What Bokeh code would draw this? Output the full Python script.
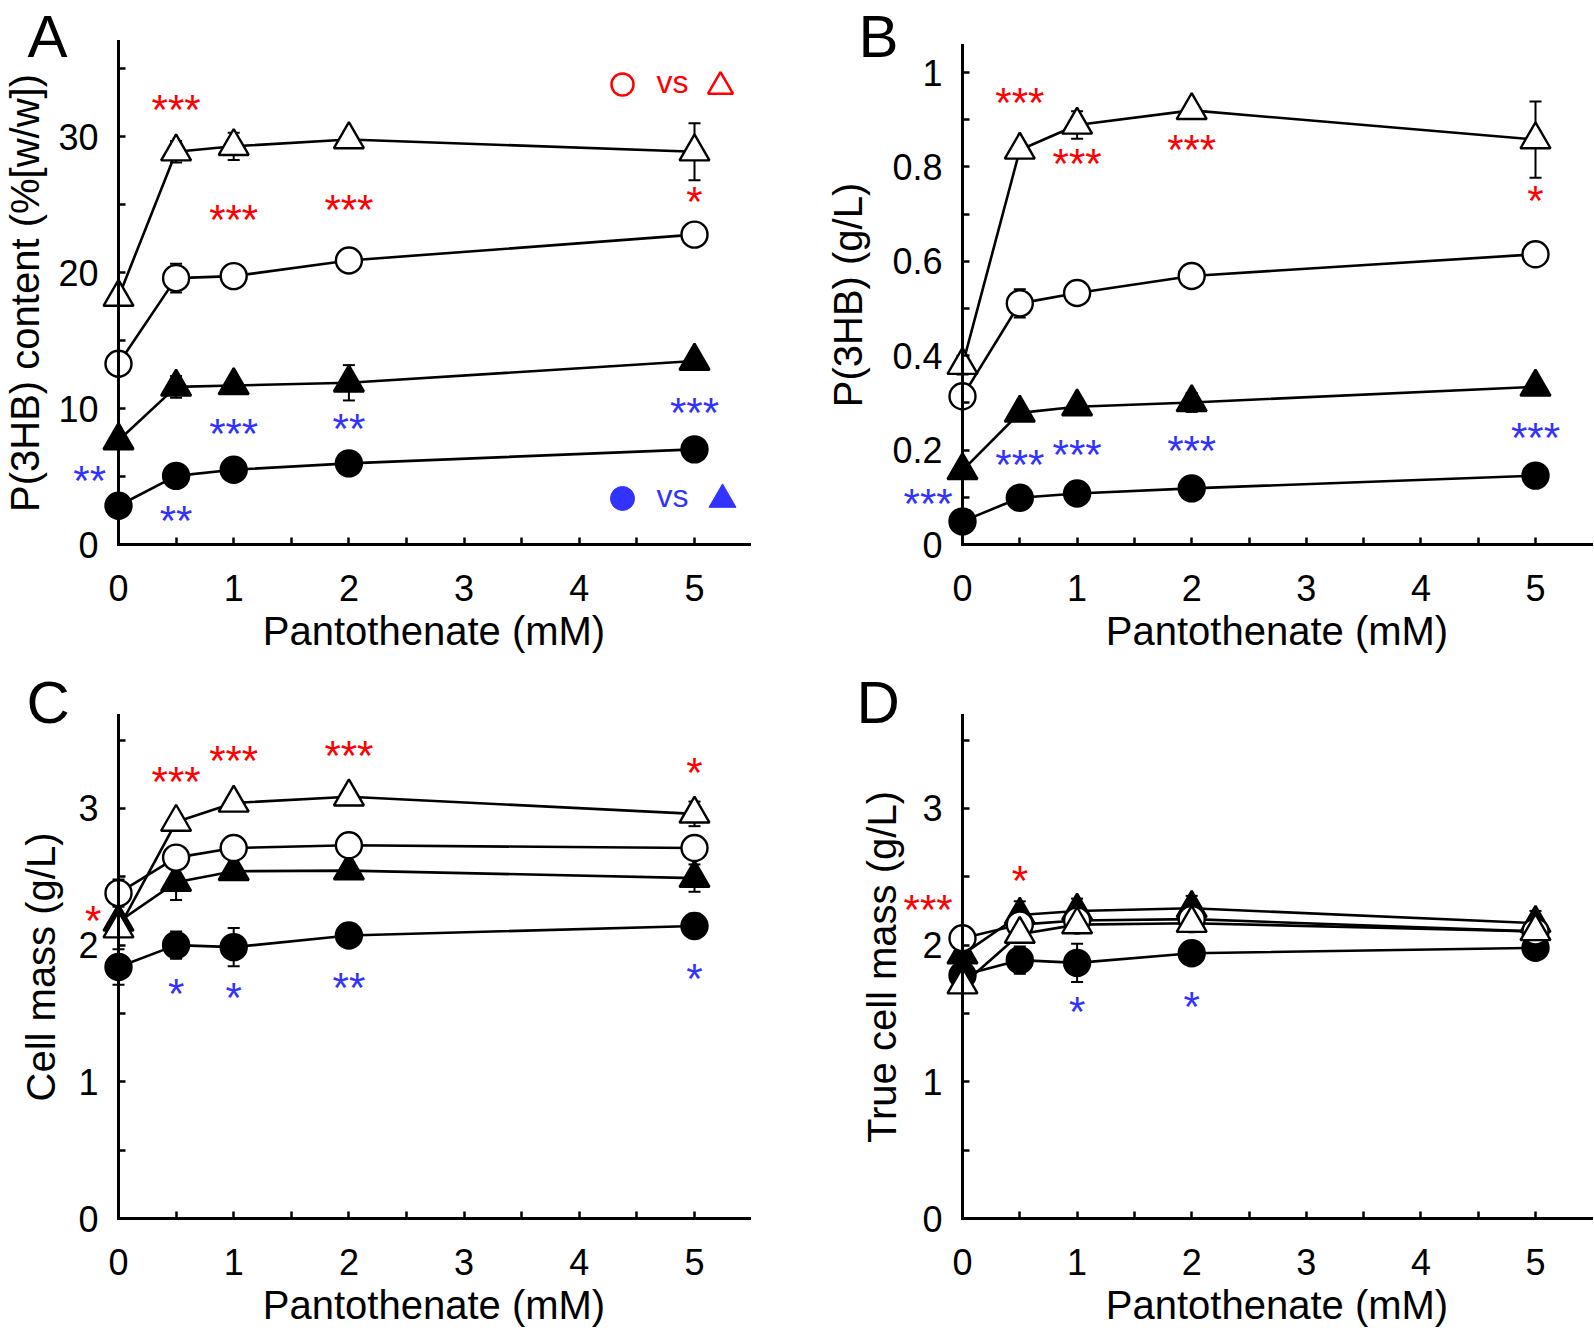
from bokeh.plotting import figure
from bokeh.models import ColumnDataSource, Whisker, TeeHead, FixedTicker, Label, LabelSet
from bokeh.layouts import column, row
from bokeh.embed import file_html
from bokeh.resources import INLINE
from bokeh.core.properties import value

FONT = "Liberation Sans"
RED = "#ff0000"
BLUE = "#3333ff"

# ---------------- data ----------------
conc = [0, 0.5, 1, 2, 5]
x_ticks = [0, 1, 2, 3, 4, 5]
x_minor = [0.5, 1.5, 2.5, 3.5, 4.5]

# Panel A : P(3HB) content (%[w/w])
A_open_tri = [18.2, 28.9, 29.3, 29.8, 28.9]
A_open_tri_sd = [0.4, 0.8, 1.0, 0.3, 2.1]
A_open_circ = [13.3, 19.6, 19.75, 20.9, 22.8]
A_open_circ_sd = [0.4, 1.05, 0.4, 0.3, 0.4]
A_fill_tri = [7.65, 11.6, 11.7, 11.9, 13.5]
A_fill_tri_sd = [0.5, 0.8, 0.4, 1.3, 0.3]
A_fill_circ = [2.85, 5.05, 5.5, 5.97, 7.0]
A_fill_circ_sd = [0.3, 0.3, 0.3, 0.5, 0.3]
A_star_x = [0.5, 1, 2, 5, -0.25, 0.5, 1, 2, 5]
A_star_y = [32.4, 24.3, 25.0, 25.6, 5.1, 2.1, 8.5, 8.9, 10.1]
A_star_t = ["***", "***", "***", "*", "**", "**", "***", "**", "***"]
A_star_g = ["r", "r", "r", "r", "b", "b", "b", "b", "b"]
A_yticks = [0, 10, 20, 30]
A_yminor = [5, 15, 25, 35]

# Panel B : P(3HB) (g/L)
B_open_tri = [0.38, 0.836, 0.889, 0.920, 0.858]
B_open_tri_sd = [0.02, 0.01, 0.029, 0.01, 0.081]
B_open_circ = [0.314, 0.511, 0.533, 0.569, 0.615]
B_open_circ_sd = [0.02, 0.03, 0.01, 0.01, 0.01]
B_fill_tri = [0.157, 0.279, 0.292, 0.301, 0.334]
B_fill_tri_sd = [0.01, 0.015, 0.01, 0.02, 0.01]
B_fill_circ = [0.049, 0.099, 0.108, 0.119, 0.146]
B_fill_circ_sd = [0.01, 0.01, 0.01, 0.01, 0.01]
B_star_x = [0.5, 1, 2, 5, -0.3, 0.5, 1, 2, 5]
B_star_y = [0.948, 0.818, 0.848, 0.740, 0.098, 0.180, 0.202, 0.210, 0.238]
B_star_t = ["***", "***", "***", "*", "***", "***", "***", "***", "***"]
B_star_g = ["r", "r", "r", "r", "b", "b", "b", "b", "b"]
B_yticks = [0, 0.2, 0.4, 0.6, 0.8, 1.0]
B_yminor = [0.1, 0.3, 0.5, 0.7, 0.9]

# Panel C : Cell mass (g/L)
C_open_tri = [2.12, 2.90, 3.04, 3.085, 2.96]
C_open_tri_sd = [0.05, 0.03, 0.03, 0.04, 0.09]
C_open_circ = [2.38, 2.64, 2.71, 2.73, 2.71]
C_open_circ_sd = [0.1, 0.03, 0.03, 0.03, 0.03]
C_fill_tri = [2.17, 2.46, 2.54, 2.545, 2.49]
C_fill_tri_sd = [0.05, 0.13, 0.05, 0.05, 0.1]
C_fill_circ = [1.84, 2.0, 1.985, 2.07, 2.14]
C_fill_circ_sd = [0.13, 0.1, 0.14, 0.06, 0.09]
C_star_x = [-0.22, 0.5, 1, 2, 5, 0.5, 1, 2, 5]
C_star_y = [2.22, 3.235, 3.39, 3.42, 3.30, 1.68, 1.65, 1.73, 1.79]
C_star_t = ["*", "***", "***", "***", "*", "*", "*", "**", "*"]
C_star_g = ["r", "r", "r", "r", "r", "b", "b", "b", "b"]
CD_yticks = [0, 1, 2, 3]
CD_yminor = [0.5, 1.5, 2.5, 3.5]

# Panel D : True cell mass (g/L)
D_open_tri = [1.71, 2.08, 2.15, 2.16, 2.10]
D_open_tri_sd = [0.03, 0.03, 0.03, 0.03, 0.03]
D_open_circ = [2.05, 2.15, 2.18, 2.19, 2.10]
D_open_circ_sd = [0.03, 0.03, 0.03, 0.03, 0.03]
D_fill_tri = [1.93, 2.22, 2.25, 2.27, 2.16]
D_fill_tri_sd = [0.03, 0.1, 0.09, 0.09, 0.09]
D_fill_circ = [1.78, 1.89, 1.87, 1.94, 1.98]
D_fill_circ_sd = [0.03, 0.1, 0.14, 0.06, 0.03]
D_star_x = [-0.3, 0.5, 1, 2]
D_star_y = [2.30, 2.51, 1.55, 1.59]
D_star_t = ["***", "*", "*", "*"]
D_star_g = ["r", "r", "b", "b"]

# ---------------- layout (page pixels) ----------------
SPLIT = 658
GEO = {
    "A": dict(left=0, top=0, w=797, h=SPLIT, x0=118, xs=115.2, y0=544, ys=13.59,
              xend=5.48, ytop=37.0, lab_stand=8, title_px="40px"),
    "B": dict(left=797, top=0, w=797, h=SPLIT, x0=962, xs=114.6, y0=544, ys=471.9,
              xend=5.49, ytop=1.058, lab_stand=19, title_px="40px"),
    "C": dict(left=0, top=SPLIT, w=797, h=1334 - SPLIT, x0=118, xs=115.2, y0=1218,
              ys=136.7, xend=5.48, ytop=3.68, lab_stand=12, title_px="40px"),
    "D": dict(left=797, top=SPLIT, w=797, h=1334 - SPLIT, x0=962, xs=114.6, y0=1218,
              ys=136.7, xend=5.49, ytop=3.68, lab_stand=15, title_px="40px"),
}
STAR_SHIFT = 5  # px, visual centring of the asterisk glyphs


def dx(px, g):
    return (px - g["x0"]) / g["xs"]


def dy(py, g):
    return (g["y0"] - py) / g["ys"]


def make_panel(key, letter_pos, ytitle, series, stars, yticks, yminor, overrides=None):
    g = GEO[key]
    p = figure(width=g["w"], height=g["h"],
               x_range=(dx(g["left"], g), dx(g["left"] + g["w"], g)),
               y_range=(dy(g["top"] + g["h"], g), dy(g["top"], g)),
               output_backend="svg", toolbar_location=None,
               min_border_left=0, min_border_right=0, min_border_top=0,
               min_border_bottom=0)
    p.outline_line_color = None
    p.grid.grid_line_color = None
    p.background_fill_color = "white"
    p.border_fill_color = "white"

    for ax in (p.xaxis[0], p.yaxis[0]):
        ax.fixed_location = 0
        ax.axis_line_width = 3
        ax.axis_line_color = "black"
        ax.axis_line_cap = "square"
        ax.major_tick_in = 7
        ax.major_tick_out = 0
        ax.minor_tick_in = 7
        ax.minor_tick_out = 0
        ax.major_tick_line_width = 2.5
        ax.minor_tick_line_width = 2.5
        ax.major_tick_line_color = "black"
        ax.minor_tick_line_color = "black"
        ax.major_label_text_font = FONT
        ax.major_label_text_font_size = "36px"
        ax.major_label_text_color = "black"
        ax.axis_label_text_font = FONT
        ax.axis_label_text_font_size = "40px"
        ax.axis_label_text_font_style = "normal"
        ax.axis_label_text_color = "black"

    xa = p.xaxis[0]
    xa.bounds = (0, g["xend"])
    xa.ticker = FixedTicker(ticks=x_ticks, minor_ticks=x_minor)
    xa.axis_label = "Pantothenate (mM)"
    xa.major_label_standoff = 30
    xa.axis_label_standoff = 5

    ya = p.yaxis[0]
    ya.bounds = (0, g["ytop"])
    ya.ticker = FixedTicker(ticks=yticks, minor_ticks=yminor)
    ya.axis_label = ytitle
    ya.axis_label_text_font_size = g["title_px"]
    ya.major_label_standoff = 20
    ya.axis_label_standoff = g["lab_stand"]
    if overrides:
        ya.major_label_overrides = overrides

    # error bars
    for vals, sd, *_ in series:
        src = ColumnDataSource(dict(x=conc,
                                    up=[v + s for v, s in zip(vals, sd)],
                                    lo=[v - s for v, s in zip(vals, sd)]))
        w = Whisker(source=src, base="x", upper="up", lower="lo", dimension="height",
                    line_color="black", line_width=2,
                    upper_head=TeeHead(size=12, line_width=2, line_color="black"),
                    lower_head=TeeHead(size=12, line_width=2, line_color="black"),
                    level="underlay")
        p.add_layout(w)

    for vals, sd, marker, fill in series:
        p.line(conc, vals, line_color="black", line_width=2.6)
    for vals, sd, marker, fill in series:
        size = 26 if marker == "circle" else 30
        p.scatter(conc, vals, marker=marker, size=size, fill_color=fill,
                  line_color="black", line_width=2.4)

    # significance stars
    sx, sy, st, sg = stars
    ssrc = ColumnDataSource(dict(x=sx, y=[v - STAR_SHIFT / g["ys"] for v in sy], t=st,
                                 c=[RED if q == "r" else BLUE for q in sg]))
    p.add_layout(LabelSet(x="x", y="y", text="t", source=ssrc, text_color="c",
                          text_font=value(FONT), text_font_size="42px",
                          text_align="center", text_baseline="middle"))

    # panel letter
    lx, ly = letter_pos
    p.add_layout(Label(x=dx(lx, g), y=dy(ly, g), text=key, text_font=FONT,
                       text_font_size="60px", text_color="black",
                       text_align="left", text_baseline="alphabetic"))
    return p


def series_order(ot, ots, oc, ocs, ft, fts, fc, fcs):
    return [
        (fc, fcs, "circle", "black"),
        (ft, fts, "triangle", "black"),
        (oc, ocs, "circle", "white"),
        (ot, ots, "triangle", "white"),
    ]


pA = make_panel("A", (27, 36), "P(3HB) content (%[w/w])",
                series_order(A_open_tri, A_open_tri_sd, A_open_circ, A_open_circ_sd,
                             A_fill_tri, A_fill_tri_sd, A_fill_circ, A_fill_circ_sd),
                (A_star_x, A_star_y, A_star_t, A_star_g), A_yticks, A_yminor)
pB = make_panel("B", (858, 36), "P(3HB) (g/L)",
                series_order(B_open_tri, B_open_tri_sd, B_open_circ, B_open_circ_sd,
                             B_fill_tri, B_fill_tri_sd, B_fill_circ, B_fill_circ_sd),
                (B_star_x, B_star_y, B_star_t, B_star_g), B_yticks, B_yminor,
                overrides={0: "0", 1: "1"})
pC = make_panel("C", (26, 702), "Cell mass (g/L)",
                series_order(C_open_tri, C_open_tri_sd, C_open_circ, C_open_circ_sd,
                             C_fill_tri, C_fill_tri_sd, C_fill_circ, C_fill_circ_sd),
                (C_star_x, C_star_y, C_star_t, C_star_g), CD_yticks, CD_yminor)
pD = make_panel("D", (856, 702), "True cell mass (g/L)",
                series_order(D_open_tri, D_open_tri_sd, D_open_circ, D_open_circ_sd,
                             D_fill_tri, D_fill_tri_sd, D_fill_circ, D_fill_circ_sd),
                (D_star_x, D_star_y, D_star_t, D_star_g), CD_yticks, CD_yminor)

# comparison key in panel A
gA = GEO["A"]
pA.scatter([dx(622, gA)], [dy(84, gA)], marker="circle", size=22,
           fill_color="white", line_color=RED, line_width=2.5)
pA.scatter([dx(720, gA)], [dy(86, gA)], marker="triangle", size=25,
           fill_color="white", line_color=RED, line_width=2.5)
pA.add_layout(Label(x=dx(672, gA), y=dy(81, gA), text="vs", text_font=FONT,
                    text_font_size="32px", text_color=RED, text_align="center",
                    text_baseline="alphabetic"))
pA.scatter([dx(622, gA)], [dy(498, gA)], marker="circle", size=24,
           fill_color=BLUE, line_color=BLUE, line_width=1)
pA.scatter([dx(722, gA)], [dy(499, gA)], marker="triangle", size=27,
           fill_color=BLUE, line_color=BLUE, line_width=1)
pA.add_layout(Label(x=dx(672, gA), y=dy(495, gA), text="vs", text_font=FONT,
                    text_font_size="32px", text_color=BLUE, text_align="center",
                    text_baseline="alphabetic"))

layout = column(row(pA, pB), row(pC, pD))
open("out.html", "w").write(file_html(layout, INLINE))
